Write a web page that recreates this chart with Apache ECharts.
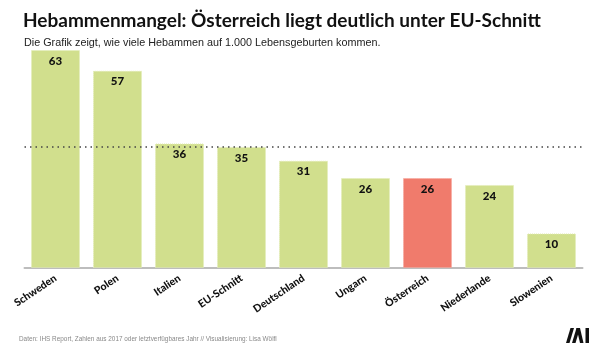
<!DOCTYPE html>
<html><head><meta charset="utf-8">
<script src="https://cdn.jsdelivr.net/npm/echarts@6/dist/echarts.min.js"></script>
<style>html,body{margin:0;padding:0;background:#fff}#c{width:605px;height:350px}</style>
</head><body><div id="c"></div>
<script>
const categories = ["Schweden","Polen","Italien","EU-Schnitt","Deutschland","Ungarn","Österreich","Niederlande","Slowenien"];
const values = [63,57,36,35,31,26,26,24,10];
const highlight = "Österreich";
const euAverage = 35;
const titleText = "Hebammenmangel: Österreich liegt deutlich unter EU-Schnitt";
const subtitleText = "Die Grafik zeigt, wie viele Hebammen auf 1.000 Lebensgeburten kommen.";
const sourceText = "Daten: IHS Report, Zahlen aus 2017 oder letztverfügbares Jahr // Visualisierung: Lisa Wölfl";

const chart = echarts.init(document.getElementById('c'), null, {renderer:'canvas'});
const green = '#d1df8d', red = '#f07b6c';
chart.setOption({
  animation:false,
  backgroundColor:'#fff',
  title:[
    {text:titleText, left:18, top:6, textStyle:{fontFamily:'Lato', fontWeight:'bold', fontSize:19, color:'#111'}},
    {text:subtitleText, left:19, top:33, textStyle:{fontFamily:'Liberation Sans', fontWeight:'normal', fontSize:10.8, color:'#222'}}
  ],
  grid:{left:24.5, right:22.5, top:50, bottom:82, containLabel:false},
  xAxis:{type:'category', data:categories,
    axisLine:{lineStyle:{color:'#bdbdbd', width:2}}, axisTick:{show:false},
    axisLabel:{rotate:34, interval:0, margin:9, fontFamily:'Lato', fontWeight:900, fontSize:10.5, color:'#111'}},
  yAxis:{type:'value', min:0, max:63, show:false, splitLine:{show:false}},
  series:[{
    type:'bar', barWidth:49,
    data:values.map((v,i)=>({value:v, itemStyle:{color: categories[i]===highlight?red:green, borderColor: categories[i]===highlight?'#f7a79c':'#e3ecb8'}})),
    itemStyle:{borderWidth:1, borderType:'dotted'},
    label:{show:true, position:'insideTop', distance:5, fontFamily:'Lato', fontWeight:900, fontSize:11.5, color:'#111'},
    markLine:{silent:true, symbol:'none', label:{show:false},
      lineStyle:{color:'#444', type:[1.5,4], width:1.5},
      data:[{yAxis:euAverage}]}
  }],
  graphic:[
    {type:'text', left:19, top:335, scaleX:0.8, originX:0,
      style:{text:sourceText, font:'8px "Liberation Sans"', fill:'#888'}},
    {type:'group', left:566, top:328, children:[
      {type:'polygon', shape:{points:[[0,15],[3.5,15],[8,0],[4.5,0]]}, style:{fill:'#111'}},
      {type:'polygon', shape:{points:[[6,15],[9.5,15],[14,0],[10.5,0]]}, style:{fill:'#111'}},
      {type:'polygon', shape:{points:[[10.5,0],[14,0],[17.5,15],[14,15]]}, style:{fill:'#111'}},
      {type:'rect', shape:{x:19.5,y:0,width:3.5,height:15}, style:{fill:'#111'}}
    ]}
  ]
});
</script></body></html>
